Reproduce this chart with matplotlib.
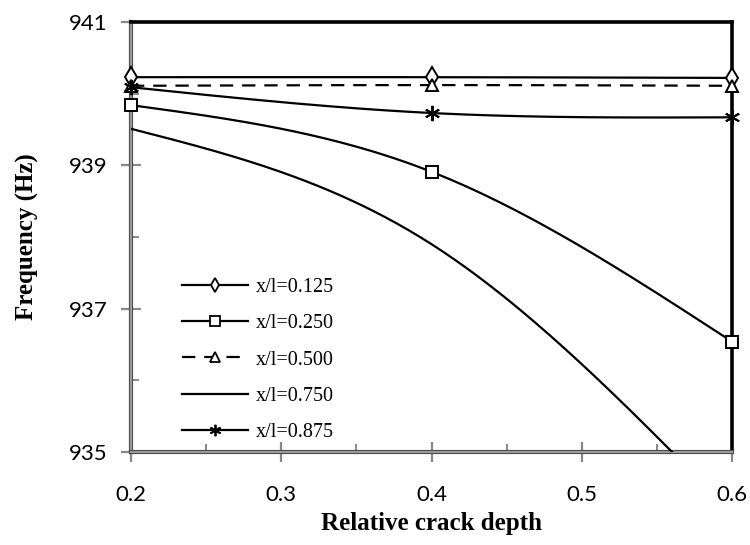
import numpy as np
import matplotlib
matplotlib.use("Agg")
import matplotlib.pyplot as plt
from matplotlib.ticker import MultipleLocator
import matplotlib.patheffects as pe

# ---- data ----
depth = [0.2, 0.4, 0.6]
labels = ["x/l=0.125", "x/l=0.250", "x/l=0.500", "x/l=0.750", "x/l=0.875"]
f_0125 = [940.23, 940.23, 940.22]
f_0250 = [939.84, 938.91, 936.54]
f_0500 = [940.11, 940.12, 940.11]
f_0750 = [939.51, 937.90, 934.15]
f_0875 = [940.09, 939.73, 939.67]
yticks = [935, 937, 939, 941]
xticks = [0.2, 0.3, 0.4, 0.5, 0.6]


def smooth(x, y, n=80):
    """Natural cubic spline through the points (smoothed-line rendering)."""
    x = np.asarray(x, float)
    y = np.asarray(y, float)
    k = len(x)
    # tangents (per segment units) of natural spline, equally spaced points
    A = np.zeros((k, k))
    b = np.zeros(k)
    A[0, 0], A[0, 1] = 2, 1
    b[0] = 3 * (y[1] - y[0])
    A[-1, -2], A[-1, -1] = 1, 2
    b[-1] = 3 * (y[-1] - y[-2])
    for i in range(1, k - 1):
        A[i, i - 1], A[i, i], A[i, i + 1] = 1, 4, 1
        b[i] = 3 * (y[i + 1] - y[i - 1])
    m = np.linalg.solve(A, b)
    xs, ys = [], []
    t = np.linspace(0, 1, n)
    h00 = 2 * t**3 - 3 * t**2 + 1
    h10 = t**3 - 2 * t**2 + t
    h01 = -2 * t**3 + 3 * t**2
    h11 = t**3 - t**2
    for i in range(k - 1):
        xs.append(x[i] + (x[i + 1] - x[i]) * t)
        ys.append(h00 * y[i] + h10 * m[i] + h01 * y[i + 1] + h11 * m[i + 1])
    return np.concatenate(xs), np.concatenate(ys)


fig = plt.figure(figsize=(7.5, 5.45), dpi=100)
ax = fig.add_axes([131 / 750, 1 - 452 / 545, (732 - 131) / 750, (452 - 22) / 545])

series = [
    (f_0125, dict(marker="d", ls="-", ms=10)),
    (f_0250, dict(marker="s", ls="-", ms=9)),
    (f_0500, dict(marker="^", ls=(0, (6, 4)), ms=9)),
    (f_0750, dict(marker=None, ls="-", ms=9)),
    (f_0875, dict(marker=(6, 2, 0), ls="-", ms=11)),
]

handles = []
for (vals, st), lab in zip(series, labels):
    xs, ys = smooth(depth, vals)
    ax.plot(xs, ys, color="black", lw=1.6, ls=st["ls"], zorder=3, clip_on=True)
    if st["marker"] is not None:
        ax.plot(depth, vals, ls="none", marker=st["marker"], ms=st["ms"],
                mfc="white", mec="black", mew=1.4, zorder=4, clip_on=False)
    h, = ax.plot([], [], color="black", lw=1.6, ls=st["ls"],
                 marker=st["marker"], ms=st["ms"] * 0.75, mfc="white",
                 mec="black", mew=1.3)
    handles.append(h)

ax.set_xlim(0.2, 0.6)
ax.set_ylim(935, 941)
ax.set_xticks(xticks)
ax.set_yticks(yticks)
ax.xaxis.set_minor_locator(MultipleLocator(0.05))
ax.yaxis.set_minor_locator(MultipleLocator(1))
ax.set_xticklabels([f"{v:.1f}" for v in xticks])
ax.set_yticklabels([str(v) for v in yticks])

ax.tick_params(which="major", direction="inout", length=14, width=1.6,
               color="#888888", labelsize=16, pad=10)
ax.tick_params(axis="x", which="major", pad=17)
ax.tick_params(which="minor", direction="in", length=6, width=1.4,
               color="#888888")
for lbl in ax.get_xticklabels() + ax.get_yticklabels():
    lbl.set_family("Lato")

for s in ["left", "bottom"]:
    ax.spines[s].set_color("#999999")
    ax.spines[s].set_linewidth(1.6)
    ax.spines[s].set_path_effects([pe.Stroke(linewidth=3.0, foreground="#444444"), pe.Normal()])
for s in ["top", "right"]:
    ax.spines[s].set_color("black")
    ax.spines[s].set_linewidth(2.6)

ax.set_xlabel("Relative crack depth", family="Liberation Serif",
              fontweight="bold", fontsize=18, labelpad=5)
ax.set_ylabel("Frequency (Hz)", family="Liberation Serif",
              fontweight="bold", fontsize=18, labelpad=21)

leg = ax.legend(handles, labels, loc="upper left",
                bbox_to_anchor=(182 / 750, 1 - 278 / 545),
                bbox_transform=fig.transFigure, frameon=False,
                prop={"family": "Liberation Serif", "size": 14.5},
                handlelength=3.3, handletextpad=0.35, labelspacing=0.85,
                borderpad=0, borderaxespad=0)

fig.savefig("out.png", dpi=100)
